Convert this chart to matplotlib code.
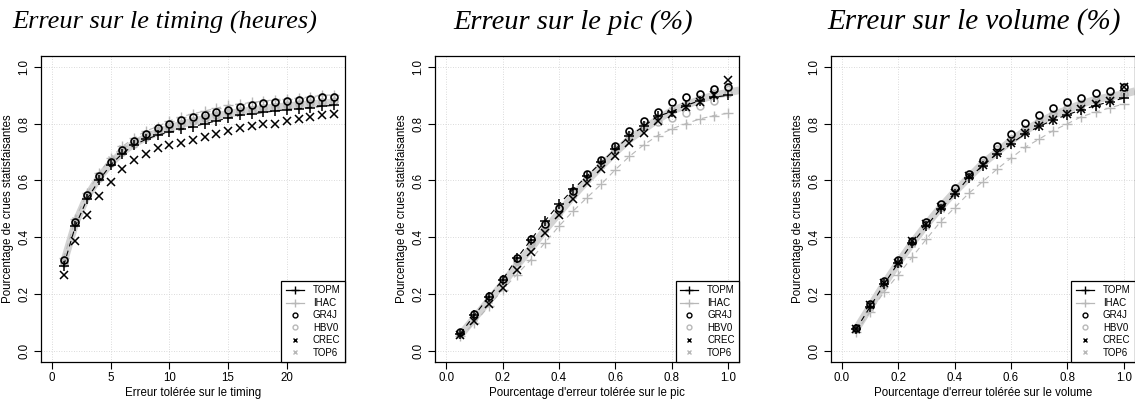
import matplotlib
matplotlib.use("Agg")
import matplotlib.pyplot as plt
from matplotlib.lines import Line2D

# ---------------- data ----------------
x_time = [1, 2, 3, 4, 5, 6, 7, 8, 9, 10, 11, 12, 13, 14, 15, 16, 17, 18, 19, 20, 21, 22, 23, 24]
x_frac = [0.05, 0.10, 0.15, 0.20, 0.25, 0.30, 0.35, 0.40, 0.45, 0.50,
          0.55, 0.60, 0.65, 0.70, 0.75, 0.80, 0.85, 0.90, 0.95, 1.00]
x_band_frac = x_frac + [1.04]

models = ["TOPM", "IHAC", "GR4J", "HBV0", "CREC", "TOP6"]

# timing panel
TOPM_t = [0.30, 0.44, 0.535, 0.60, 0.655, 0.695, 0.725, 0.745, 0.76, 0.77, 0.78, 0.79, 0.80, 0.81, 0.82, 0.83, 0.835, 0.84, 0.845, 0.85, 0.853, 0.857, 0.862, 0.865]
IHAC_t = [0.325, 0.465, 0.555, 0.625, 0.68, 0.72, 0.75, 0.775, 0.79, 0.81, 0.825, 0.835, 0.845, 0.855, 0.865, 0.87, 0.875, 0.88, 0.885, 0.888, 0.89, 0.895, 0.90, 0.902]
GR4J_t = [0.319, 0.453, 0.55, 0.616, 0.666, 0.708, 0.738, 0.764, 0.784, 0.80, 0.813, 0.823, 0.831, 0.84, 0.85, 0.858, 0.867, 0.873, 0.876, 0.881, 0.883, 0.888, 0.894, 0.895]
HBV0_t = [0.31, 0.45, 0.545, 0.61, 0.66, 0.70, 0.73, 0.755, 0.775, 0.79, 0.80, 0.81, 0.82, 0.83, 0.84, 0.845, 0.85, 0.855, 0.86, 0.865, 0.87, 0.873, 0.876, 0.88]
CREC_t = [0.268, 0.386, 0.478, 0.545, 0.595, 0.64, 0.673, 0.693, 0.713, 0.725, 0.733, 0.741, 0.754, 0.765, 0.776, 0.785, 0.793, 0.798, 0.80, 0.809, 0.816, 0.825, 0.831, 0.836]
TOP6_t = [0.32, 0.46, 0.55, 0.62, 0.675, 0.715, 0.74, 0.765, 0.78, 0.795, 0.805, 0.815, 0.825, 0.835, 0.845, 0.85, 0.855, 0.86, 0.865, 0.87, 0.872, 0.875, 0.878, 0.88]
BAND_t = [0.31, 0.45, 0.545, 0.61, 0.66, 0.70, 0.73, 0.752, 0.77, 0.785, 0.797, 0.808, 0.818, 0.827, 0.835, 0.842, 0.848, 0.853, 0.858, 0.862, 0.866, 0.869, 0.872, 0.875]

# peak panel
TOPM_p = [0.06, 0.125, 0.188, 0.25, 0.325, 0.39, 0.457, 0.516, 0.569, 0.616, 0.664, 0.711, 0.756, 0.791, 0.826, 0.843, 0.864, 0.882, 0.894, 0.90]
IHAC_p = [0.05, 0.097, 0.156, 0.215, 0.268, 0.321, 0.38, 0.439, 0.492, 0.54, 0.587, 0.638, 0.685, 0.725, 0.758, 0.782, 0.80, 0.817, 0.829, 0.837]
GR4J_p = [0.065, 0.131, 0.192, 0.254, 0.327, 0.392, 0.447, 0.504, 0.563, 0.622, 0.673, 0.722, 0.776, 0.811, 0.843, 0.876, 0.894, 0.906, 0.923, 0.929]
HBV0_p = [0.06, 0.125, 0.185, 0.245, 0.315, 0.38, 0.44, 0.495, 0.555, 0.61, 0.66, 0.71, 0.76, 0.795, 0.805, 0.82, 0.838, 0.861, 0.882, 0.91]
CREC_p = [0.055, 0.103, 0.164, 0.221, 0.286, 0.348, 0.416, 0.48, 0.536, 0.59, 0.64, 0.687, 0.731, 0.766, 0.808, 0.835, 0.858, 0.878, 0.90, 0.953]
TOP6_p = [0.055, 0.115, 0.178, 0.24, 0.305, 0.37, 0.43, 0.49, 0.55, 0.605, 0.655, 0.705, 0.75, 0.79, 0.82, 0.85, 0.875, 0.895, 0.915, 0.935]
BAND_p = [0.055, 0.115, 0.175, 0.235, 0.30, 0.36, 0.425, 0.485, 0.545, 0.60, 0.65, 0.70, 0.745, 0.78, 0.815, 0.845, 0.865, 0.885, 0.90, 0.91, 0.918]

# volume panel
TOPM_v = [0.075, 0.155, 0.235, 0.31, 0.38, 0.44, 0.50, 0.551, 0.61, 0.652, 0.695, 0.73, 0.764, 0.791, 0.813, 0.832, 0.849, 0.864, 0.878, 0.89]
IHAC_v = [0.065, 0.138, 0.207, 0.268, 0.331, 0.394, 0.455, 0.504, 0.555, 0.596, 0.64, 0.679, 0.717, 0.746, 0.776, 0.80, 0.825, 0.841, 0.856, 0.87]
GR4J_v = [0.079, 0.165, 0.244, 0.319, 0.388, 0.455, 0.516, 0.573, 0.622, 0.673, 0.72, 0.764, 0.802, 0.831, 0.856, 0.878, 0.891, 0.908, 0.915, 0.93]
HBV0_v = [0.075, 0.158, 0.237, 0.31, 0.38, 0.445, 0.505, 0.56, 0.615, 0.66, 0.71, 0.745, 0.78, 0.81, 0.835, 0.855, 0.87, 0.885, 0.895, 0.905]
CREC_v = [0.075, 0.16, 0.24, 0.31, 0.385, 0.445, 0.505, 0.555, 0.615, 0.655, 0.698, 0.732, 0.766, 0.792, 0.815, 0.835, 0.852, 0.868, 0.882, 0.93]
TOP6_v = [0.072, 0.152, 0.232, 0.305, 0.375, 0.44, 0.50, 0.555, 0.612, 0.66, 0.70, 0.74, 0.775, 0.805, 0.83, 0.85, 0.87, 0.885, 0.897, 0.91]
BAND_v = [0.075, 0.155, 0.235, 0.31, 0.38, 0.445, 0.505, 0.56, 0.61, 0.66, 0.70, 0.74, 0.775, 0.805, 0.83, 0.85, 0.87, 0.885, 0.895, 0.905, 0.915]

titles = ["Erreur sur le timing (heures)", "Erreur sur le pic (%)", "Erreur sur le volume (%)"]
xlabels = ["Erreur tolérée sur le timing",
           "Pourcentage d'erreur tolérée sur le pic",
           "Pourcentage d'erreur tolérée sur le volume"]
ylabel = "Pourcentage de crues statisfaisantes"
xticks_time = [0, 5, 10, 15, 20]
xticks_frac = [0.0, 0.2, 0.4, 0.6, 0.8, 1.0]
yticks = [0.0, 0.2, 0.4, 0.6, 0.8, 1.0]

# ---------------- style ----------------
W, H = 1135, 404
DPI = 100
BLACK = "black"
GREY = "#b8b8b8"
BAND = "#d3d3d3"
FS = 8.3
plt.rcParams["font.family"] = ["Liberation Sans", "DejaVu Sans"]

fig = plt.figure(figsize=(W / DPI, H / DPI), dpi=DPI)

panels = [
    dict(left=40.7, x=x_time, xb=x_time, band=BAND_t,
         series=[TOPM_t, IHAC_t, GR4J_t, HBV0_t, CREC_t, TOP6_t],
         xlim=(-0.96, 24.96), xticks=xticks_time, xtl=[str(v) for v in xticks_time]),
    dict(left=435.0, x=x_frac, xb=x_band_frac, band=BAND_p,
         series=[TOPM_p, IHAC_p, GR4J_p, HBV0_p, CREC_p, TOP6_p],
         xlim=(-0.04, 1.04), xticks=xticks_frac, xtl=["%.1f" % v for v in xticks_frac]),
    dict(left=830.7, x=x_frac, xb=x_band_frac, band=BAND_v,
         series=[TOPM_v, IHAC_v, GR4J_v, HBV0_v, CREC_v, TOP6_v],
         xlim=(-0.04, 1.04), xticks=xticks_frac, xtl=["%.1f" % v for v in xticks_frac]),
]
title_cx = [165, 573, 974]
title_fs = [19, 20.5, 21]

ax_w, ax_top, ax_bot = 304.3, 55.7, 362.0
for i, p in enumerate(panels):
    ax = fig.add_axes([p["left"] / W, (H - ax_bot) / H, ax_w / W, (ax_bot - ax_top) / H])
    ax.set_xlim(*p["xlim"])
    ax.set_ylim(-0.04, 1.04)
    # grid
    for xv in p["xticks"]:
        ax.axvline(xv, color="#cfcfcf", lw=0.6, ls=(0, (1, 2)), zorder=0)
    for yv in yticks:
        ax.axhline(yv, color="#cfcfcf", lw=0.6, ls=(0, (1, 2)), zorder=0)
    # thick light band
    ax.plot(p["xb"], p["band"], color=BAND, lw=5.5, solid_capstyle="butt", zorder=1)
    x = p["x"]
    s = p["series"]
    ax.plot(x, s[1], color=GREY, lw=0.8, ls=(0, (5, 4)), marker="+", ms=7, mew=1.0, zorder=2)
    ax.plot(x, s[3], ls="none", marker="o", ms=5, mfc="none", mec=GREY, mew=1.1, zorder=3)
    ax.plot(x, s[5], ls="none", marker="x", ms=5, mec=GREY, mew=1.0, zorder=3)
    ax.plot(x, s[0], color=BLACK, lw=0.8, ls=(0, (5, 4)), marker="+", ms=7.5, mew=1.1, zorder=4)
    ax.plot(x, s[2], ls="none", marker="o", ms=5, mfc="none", mec=BLACK, mew=1.2, zorder=4)
    ax.plot(x, s[4], ls="none", marker="x", ms=5.5, mec=BLACK, mew=1.1, zorder=4)

    ax.set_xticks(p["xticks"])
    ax.set_xticklabels(p["xtl"])
    ax.set_yticks(yticks)
    ax.set_yticklabels(["%.1f" % v for v in yticks], rotation=90, va="center")
    ax.tick_params(direction="out", length=5, width=0.8, labelsize=FS, pad=2.5, colors="black")
    for sp in ax.spines.values():
        sp.set_linewidth(0.9)
    ax.set_xlabel(xlabels[i], fontsize=FS, labelpad=2)
    ax.set_ylabel(ylabel, fontsize=FS, labelpad=3)

    handles = [
        Line2D([], [], color=BLACK, lw=0.9, marker="+", ms=6, mew=1.0),
        Line2D([], [], color=GREY, lw=0.9, marker="+", ms=6, mew=1.0),
        Line2D([], [], ls="none", marker="o", ms=3.5, mfc="none", mec=BLACK, mew=1.0),
        Line2D([], [], ls="none", marker="o", ms=3.5, mfc="none", mec=GREY, mew=1.0),
        Line2D([], [], ls="none", marker="x", ms=3.5, mec=BLACK, mew=1.0),
        Line2D([], [], ls="none", marker="x", ms=3.5, mec=GREY, mew=1.0),
    ]
    leg = ax.legend(handles, models, loc="lower right", borderaxespad=0, fontsize=7,
                    frameon=True, fancybox=False, edgecolor="black", framealpha=1,
                    handlelength=1.9, handletextpad=0.9, labelspacing=0.25, borderpad=0.45)
    leg.get_frame().set_linewidth(0.9)

    fig.text(title_cx[i] / W, 1 - 29 / H, titles[i], ha="center", va="baseline",
             fontsize=title_fs[i], style="italic", family=["Liberation Serif", "DejaVu Serif"])

fig.savefig("out.png", dpi=DPI)
